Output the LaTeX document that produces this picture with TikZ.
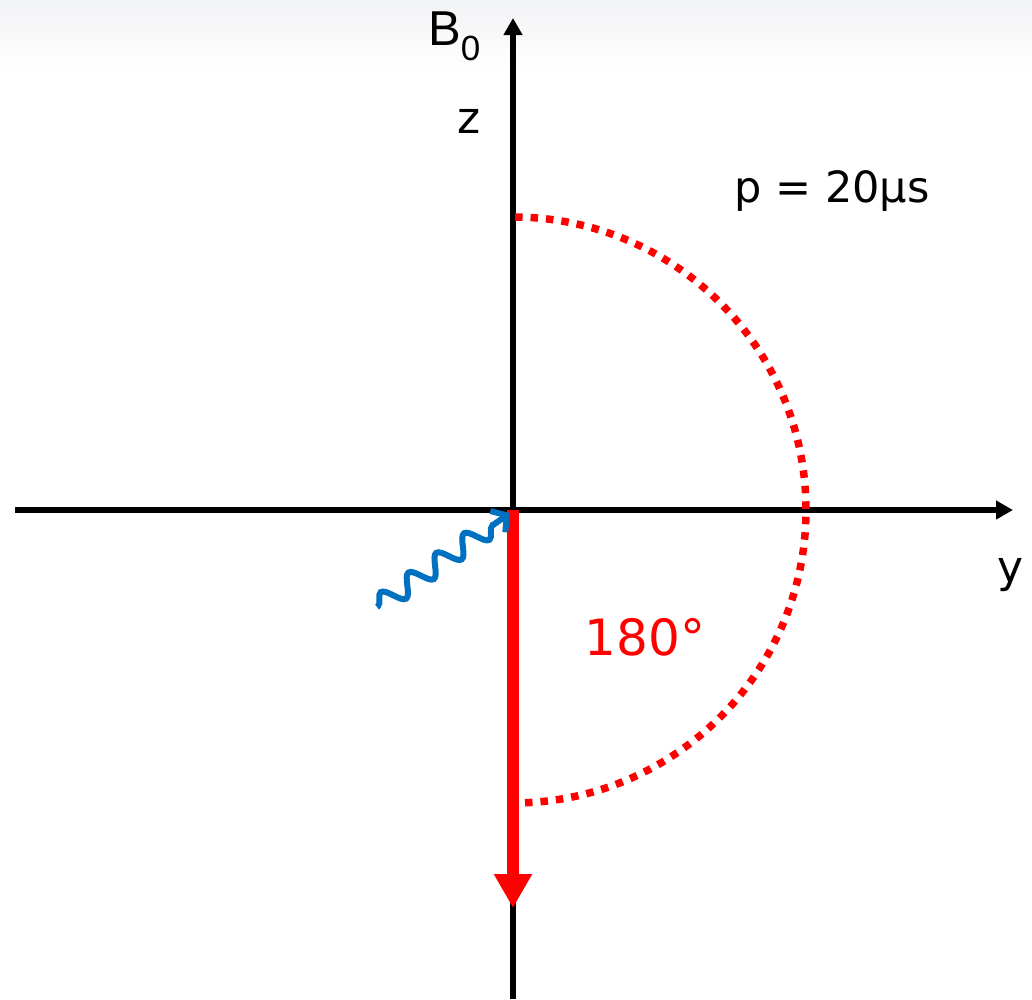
\documentclass[tikz,border=0pt]{standalone}
\usepackage{fontspec}
\setmainfont{DejaVu Sans}
\newfontfamily\arialfont{Liberation Sans}
\definecolor{pulsered}{RGB}{255,0,0}
\definecolor{rfblue}{RGB}{0,112,192}
\definecolor{topgray}{RGB}{242,243,245}
\usetikzlibrary{arrows.meta,decorations.pathmorphing,calc}

\tikzset{
    axisline/.style={line width=5.5pt, -{Triangle[length=17pt,width=18pt]}},
    magvec/.style={line width=12pt, color=pulsered, -{Triangle[length=34pt,width=36pt]}},
    rotarc/.style={line width=7.5pt, color=pulsered, dash pattern=on 7.5pt off 8pt},
    rfwave/.style={line width=6pt, color=rfblue, decorate,
        decoration={snake, amplitude=10pt, segment length=34pt, pre length=1pt, post length=12pt},
        -{Straight Barb[length=11pt,width=26pt]}},
    lbl/.style={inner sep=0pt, font=\fontsize{44}{48}\selectfont}
}

\begin{document}
\begin{tikzpicture}[x=1pt,y=1pt]
    \useasboundingbox (0,0) rectangle (1032,-999);
    \shade[top color=topgray, bottom color=white, draw=none] (0,0) rectangle (1032,-70);

    % axes
    \coordinate (O) at (513,-510);
    \coordinate (zbot) at (513,-999);
    \coordinate (ztop) at (513,-18);
    \coordinate (yleft) at (15,-510);
    \coordinate (yright) at (1013,-510);
    \draw[axisline] (zbot) -- (ztop);
    \draw[axisline] (yleft) -- (yright);

    % rotation path of the magnetisation
    \draw[rotarc] ([shift={(89.6:293)}]O) arc[start angle=89.6, end angle=-88.6, radius=293];

    % magnetisation after the pulse
    \coordinate (Mtip) at (513,-908);
    \draw[magvec] (O) -- (Mtip);

    % rf pulse
    \coordinate (wstart) at (377,-607);
    \coordinate (wend) at (510,-513);
    \draw[rfwave] (wstart) -- (wend);

    % labels
    \node[lbl, anchor=base west] (b0) at (428,-45) {\arialfont\fontsize{49}{52}\selectfont B\raisebox{-15pt}{\fontsize{35}{36}\selectfont 0}};
    \node[lbl, anchor=base] (zlbl) at (469,-133) {z};
    \node[lbl, anchor=base] (ylbl) at (1011,-582) {y};
    \node[lbl, anchor=base, font=\fontsize{43}{48}\selectfont] (plen) at (832,-202) {p = 20μs};
    \node[lbl, anchor=base, text=pulsered, font=\fontsize{50}{54}\selectfont] (angle) at (645,-655) {180°};
\end{tikzpicture}
\end{document}
